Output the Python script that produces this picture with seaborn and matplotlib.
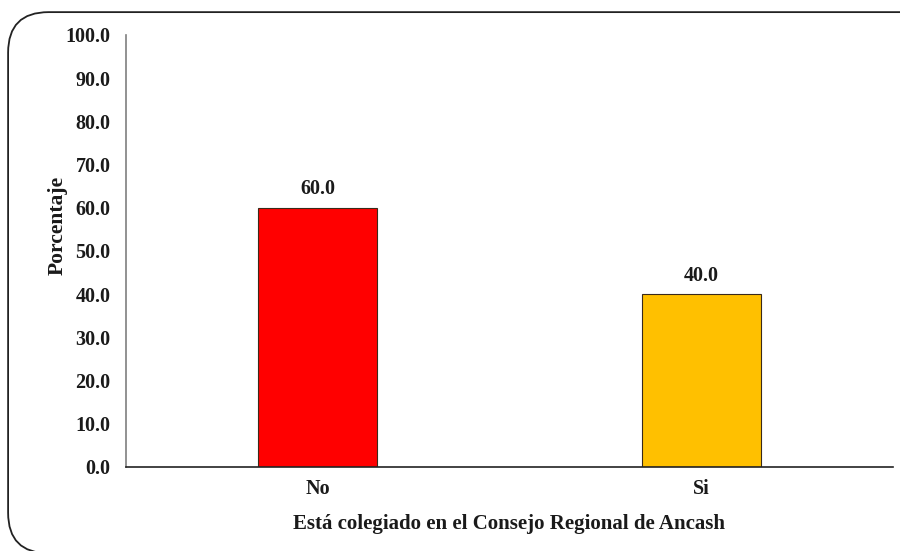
import matplotlib
matplotlib.use('Agg')
import pandas as pd
import seaborn as sns
import matplotlib.pyplot as plt
from matplotlib.patches import FancyBboxPatch

# -------------------- Data --------------------
categorias = ['No', 'Si']
porcentajes = [60.0, 40.0]
colores = ['#FF0000', '#FFC000']

df = pd.DataFrame({'colegiado': categorias, 'pct': porcentajes})

# -------------------- Style --------------------
sns.set_style('white')
plt.rcParams['font.family'] = ['Liberation Serif', 'DejaVu Serif']
plt.rcParams['font.weight'] = 'bold'

fig = plt.figure(figsize=(9, 5.51), dpi=100)
ax = fig.add_axes([0.14, 0.1525, 0.852, 0.784])

sns.barplot(data=df, x='colegiado', y='pct', hue='colegiado', palette=colores,
            width=0.31, saturation=1, edgecolor='#3a2a1a', linewidth=0.8,
            legend=False, ax=ax)

for p, v in zip(ax.patches, porcentajes):
    ax.text(p.get_x() + p.get_width() / 2, v + 2.0, f'{v:.1f}',
            ha='center', va='bottom', fontsize=14.5, fontweight='bold', color='#1a1a1a')

ax.set_ylim(0, 100)
ax.set_xlim(-0.5, 1.5)
ax.set_yticks(range(0, 101, 10))
ax.set_yticklabels([f'{t:.1f}' for t in range(0, 101, 10)], fontsize=14.5, fontweight='bold')
ax.set_xticks(range(len(categorias)))
ax.set_xticklabels(categorias, fontsize=14.5, fontweight='bold')
ax.tick_params(axis='y', length=0, pad=11, colors='#1a1a1a')
ax.tick_params(axis='x', length=0, pad=9, colors='#1a1a1a')

ax.set_ylabel('Porcentaje', fontsize=15.5, fontweight='bold', color='#1a1a1a')
ax.yaxis.set_label_coords(-0.076, 0.56)
ax.set_xlabel('Está colegiado en el Consejo Regional de Ancash', fontsize=15,
              fontweight='bold', color='#1a1a1a')
ax.xaxis.set_label_coords(0.5, -0.11)

sns.despine(ax=ax, top=True, right=True)
ax.spines['left'].set_color('#7f7f7f')
ax.spines['left'].set_linewidth(1.2)
ax.spines['bottom'].set_color('#222222')
ax.spines['bottom'].set_linewidth(1.2)

# rounded outer frame (runs off the right and bottom edges)
frame = FancyBboxPatch((0.009, -0.004), 1.06, 0.982,
                       boxstyle='round,pad=0,rounding_size=0.045',
                       transform=fig.transFigure, facecolor='none',
                       edgecolor='#222222', linewidth=1.3, zorder=-1,
                       mutation_aspect=900 / 551)
fig.patches.append(frame)

fig.savefig('out.png', dpi=100)
